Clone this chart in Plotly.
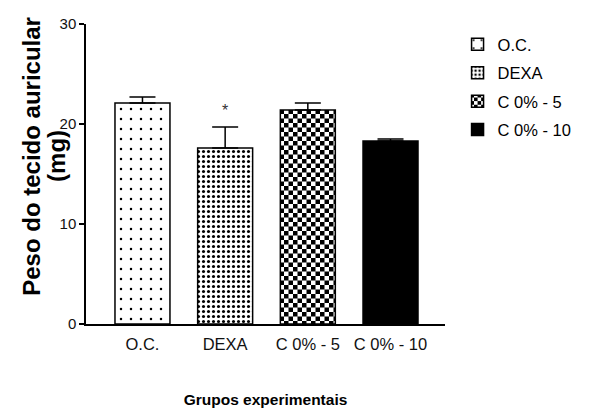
import plotly.graph_objects as go

categories = ["O.C.", "DEXA", "C 0% - 5", "C 0% - 10"]
values = [22.1, 17.6, 21.4, 18.3]
errors = [0.6, 2.1, 0.7, 0.2]
y_ticks = [0, 10, 20, 30]
y_title_lines = ["Peso do tecido auricular", "(mg)"]
x_title = "Grupos experimentais"

patterns = [
    dict(shape=".", size=10, solidity=0.05, fgcolor="black", bgcolor="white", fillmode="replace"),
    dict(shape=".", size=5, solidity=0.3, fgcolor="black", bgcolor="white", fillmode="replace"),
    dict(shape="+", size=9, solidity=0.3, fgcolor="black", bgcolor="white", fillmode="replace"),
    dict(shape="", fgcolor="black", bgcolor="black"),
]
colors = ["white", "white", "white", "black"]

FONT = "Liberation Sans, Arial, sans-serif"

fig = go.Figure()
for i, cat in enumerate(categories):
    fig.add_trace(go.Bar(
        x=[cat], y=[values[i]], name=cat,
        width=0.665,
        marker=dict(color=colors[i], line=dict(color="black", width=1.5), pattern=patterns[i]),
        error_y=dict(type="data", symmetric=False, array=[errors[i]], arrayminus=[0],
                     color="black", thickness=1.5, width=13),
        legendgroup=cat,
    ))

fig.add_annotation(x=categories[1], y=values[1] + errors[1], text="*", showarrow=False,
                   yanchor="bottom", yshift=6, font=dict(size=16, color="#333", family=FONT))

# y-axis title (two rotated lines)
fig.add_annotation(xref="paper", yref="paper", x=-0.151, y=0.56, text="<b>" + y_title_lines[0] + "</b>",
                   textangle=-90, showarrow=False, xanchor="center", yanchor="middle",
                   font=dict(size=24, color="black", family=FONT))
fig.add_annotation(xref="paper", yref="paper", x=-0.081, y=0.56, text="<b>" + y_title_lines[1] + "</b>",
                   textangle=-90, showarrow=False, xanchor="center", yanchor="middle",
                   font=dict(size=24, color="black", family=FONT))

fig.update_layout(
    width=600, height=413,
    margin=dict(l=86, r=155, t=24, b=89, autoexpand=False),
    plot_bgcolor="white", paper_bgcolor="white",
    barmode="overlay",
    showlegend=True,
    legend=dict(x=1.035, y=0.99, xanchor="left", yanchor="top",
                font=dict(family=FONT, size=16.5, color="black"),
                tracegroupgap=4, itemwidth=30),
    xaxis=dict(range=[-0.683, 3.659], showline=True, linecolor="black", linewidth=1.5,
               ticks="", tickfont=dict(family=FONT, size=16.5, color="#111"),
               ticklabelstandoff=4,
               automargin=False,
               title=dict(text="<b>" + x_title + "</b>", font=dict(family=FONT, size=15.5, color="black"),
                          standoff=43),
               categoryorder="array", categoryarray=categories, zeroline=False),
    yaxis=dict(range=[0, 30], tickvals=y_ticks, showline=True, linecolor="black", linewidth=1.5,
               ticks="outside", ticklen=5, tickwidth=1.5, tickcolor="black",
               tickfont=dict(family=FONT, size=15, color="#111"),
               showgrid=False, zeroline=False, automargin=False),
)

# Page margin reset, and turn the '+' hatch texture into a checkerboard texture (style only).
post_js = """
function __fixPage(){
  document.body.style.margin = '0';
  document.body.style.padding = '0';
  var pats = document.querySelectorAll('pattern');
  for (var i = 0; i < pats.length; i++) {
    var p = pats[i];
    var path = p.querySelector('path');
    if (!path) continue;
    var s = 9, h = 4.5;
    p.setAttribute('width', s);
    p.setAttribute('height', s);
    var r = p.querySelector('rect');
    if (r) { r.setAttribute('width', s); r.setAttribute('height', s); r.setAttribute('fill', 'white'); r.style.fill = 'white'; }
    path.setAttribute('d', 'M0,0H' + h + 'V' + h + 'H0Z M' + h + ',' + h + 'H' + s + 'V' + s + 'H' + h + 'Z');
    path.setAttribute('fill', 'black');
    path.setAttribute('stroke', 'none');
    path.setAttribute('stroke-width', '0');
    path.style.fill = 'black';
    path.style.stroke = 'none';
    path.style.strokeWidth = '0';
  }
}
__fixPage();
var __gd = document.getElementById('{plot_id}');
if (__gd && __gd.on) { __gd.on('plotly_afterplot', __fixPage); }
setTimeout(__fixPage, 50);
setTimeout(__fixPage, 300);
"""

fig.write_html("out.html", post_script=post_js, config={"displayModeBar": False})
